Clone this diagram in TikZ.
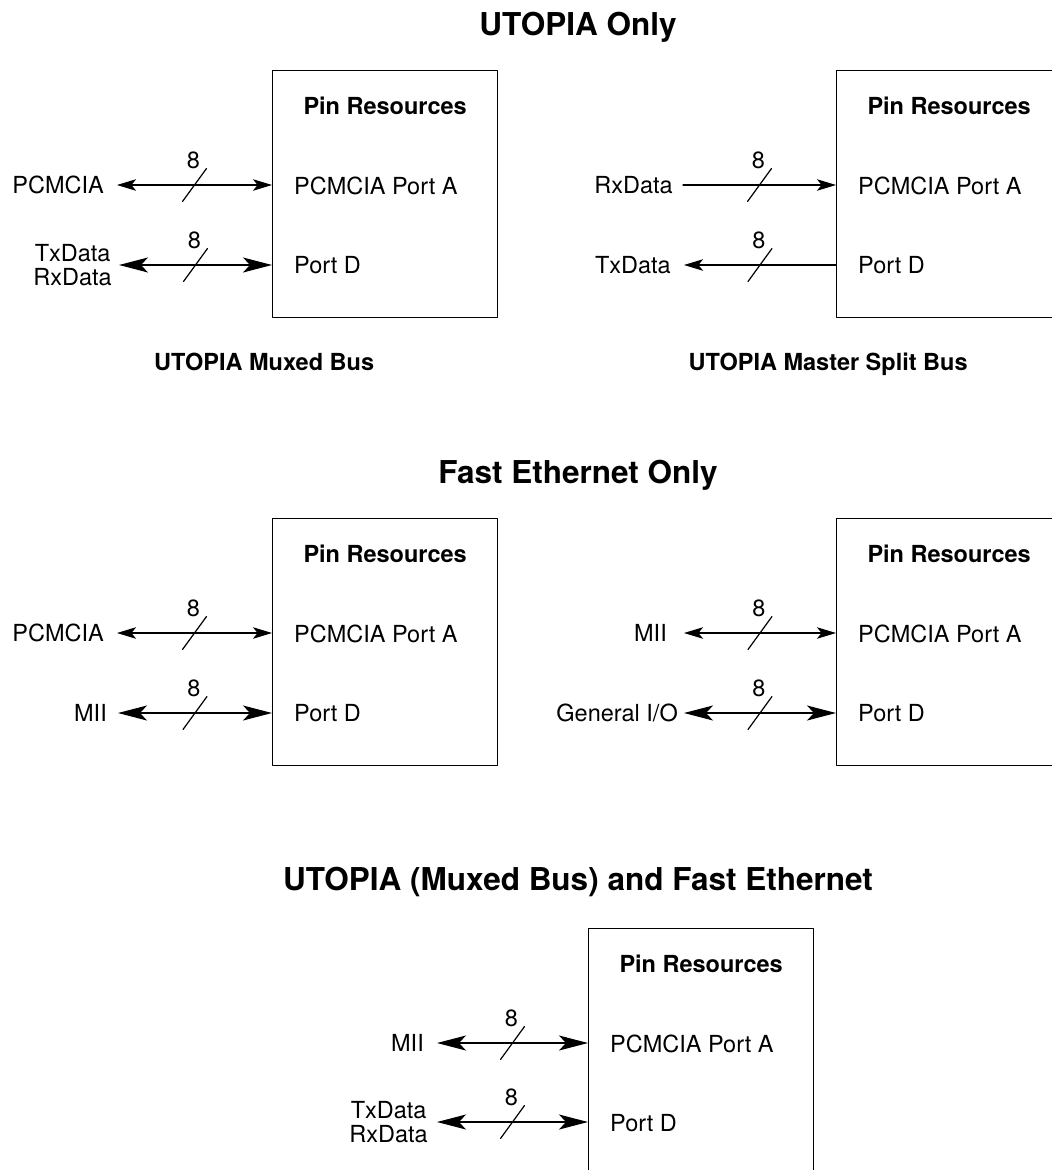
\documentclass[tikz,border=0pt]{standalone}
\usepackage{fontspec}
\setmainfont{TeX Gyre Heros}
\usetikzlibrary{arrows.meta,calc}

\tikzset{
  Sml/.tip={Stealth[length=19pt,width=11.5pt,inset=4.5pt]},
  Big/.tip={Stealth[length=29pt,width=15pt,inset=7pt]},
}

\begin{document}
\begin{tikzpicture}[x=1pt,y=-1pt,line cap=round,line join=round,
  pinbox/.style={draw,line width=1.3pt,anchor=north west,minimum width=225pt,minimum height=247pt,inner sep=0pt},
  ttl/.style={font=\bfseries\fontsize{31.5}{34}\selectfont,anchor=base,inner sep=0pt},
  head/.style={font=\bfseries\fontsize{23.5}{26}\selectfont,anchor=base,inner sep=0pt},
  txt/.style={font=\fontsize{23.5}{24}\selectfont,inner sep=0pt},
  pin/.style={txt,anchor=base west},
  sig/.style={txt,anchor=east,inner xsep=13pt,align=center},
  bus/.style={line width=1.2pt}]
  \useasboundingbox (0,0) rectangle (1052,1170);
  \clip (0,0) rectangle (1052,1170);

  % titles
  \node[ttl] (ttl1) at (578,35) {UTOPIA Only};
  \node[ttl] (ttl2) at (578,483) {Fast Ethernet Only};
  \node[ttl] (ttl3) at (578,890) {UTOPIA (Muxed Bus) and Fast Ethernet};

  % pin resource boxes
  \node[pinbox] (box1) at (272,70) {};
  \node[pinbox] (box2) at (836,70) {};
  \node[pinbox] (box3) at (272,518) {};
  \node[pinbox] (box4) at (836,518) {};
  \node[pinbox] (box5) at (588,928) {};
  \foreach \i in {1,...,5} {
    \node[head] (res\i) at ($(box\i.north)+(0,44)$) {Pin Resources};
    \node[pin] (pa\i) at ($(box\i.north west)+(22,124)$) {PCMCIA Port A};
    \node[pin] (pd\i) at ($(box\i.north west)+(22,203)$) {Port D};
  }
  \node[head] (cap1) at ($(box1.north)+(-121,300)$) {UTOPIA Muxed Bus};
  \node[head] (cap2) at ($(box2.north)+(-121,300)$) {UTOPIA Master Split Bus};

  % signals
  \node[sig] (pcm1) at (117,185) {PCMCIA};
  \node[sig,inner xsep=7pt] (trx1) at (119,265) {TxData\\RxData};
  \node[sig,inner xsep=10pt] (rx2) at (683,185) {RxData};
  \node[sig] (tx2) at (684,265) {TxData};
  \node[sig] (pcm3) at (117,633) {PCMCIA};
  \node[sig,inner xsep=11pt] (mii3) at (118,713) {MII};
  \node[sig,inner xsep=17pt] (mii4) at (684,633) {MII};
  \node[sig,inner xsep=6pt] (gio4) at (684,713) {General I/O};
  \node[sig,inner xsep=13pt] (mii5) at (437,1043) {MII};
  \node[sig,inner xsep=9pt] (trx5) at (437,1122) {TxData\\RxData};

  \draw[bus,Sml-Sml] (pcm1.east) -- coordinate (w1) (pcm1.east -| box1.west);
  \draw[bus,Big-Big] (trx1.east |- 0,265) -- coordinate (w2) (box1.west |- 0,265);
  \draw[bus,-Sml] (rx2.east) -- coordinate (w3) (rx2.east -| box2.west);
  \draw[bus,Sml-] (tx2.east) -- coordinate (w4) (tx2.east -| box2.west);
  \draw[bus,Sml-Sml] (pcm3.east) -- coordinate (w5) (pcm3.east -| box3.west);
  \draw[bus,Big-Big] (mii3.east) -- coordinate (w6) (mii3.east -| box3.west);
  \draw[bus,Sml-Sml] (mii4.east) -- coordinate (w7) (mii4.east -| box4.west);
  \draw[bus,Big-Big] (gio4.east) -- coordinate (w8) (gio4.east -| box4.west);
  \draw[bus,Big-Big] (mii5.east) -- coordinate (w9) (mii5.east -| box5.west);
  \draw[bus,Big-Big] (trx5.east |- 0,1122) -- coordinate (w10) (box5.west |- 0,1122);

  % bus width marks
  \foreach \w in {1,...,10} {
    \draw[bus] ([shift={(-12,16.5)}]w\w) -- ([shift={(12,-16.5)}]w\w);
    \node[txt] (n\w) at ([shift={(-1,-25)}]w\w) {8};
  }
\end{tikzpicture}
\end{document}
